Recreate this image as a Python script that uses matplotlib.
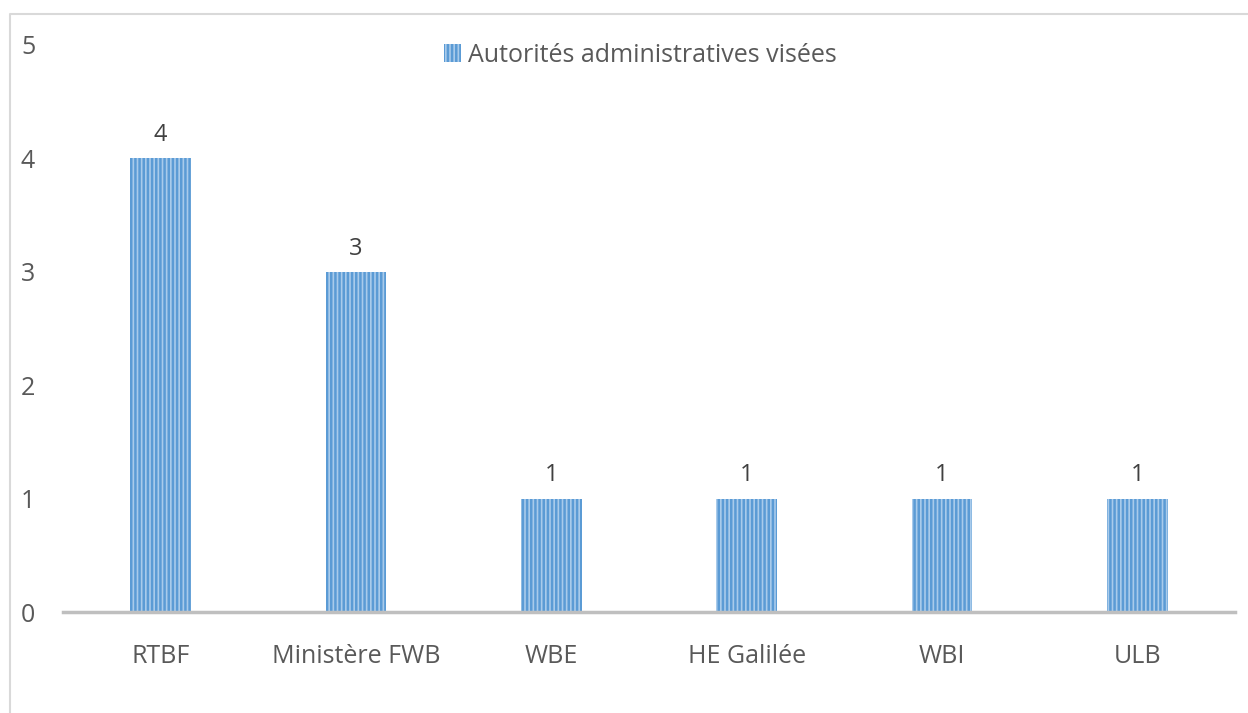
import matplotlib.pyplot as plt
from matplotlib.lines import Line2D

plt.rcParams['font.family'] = ['Open Sans', 'DejaVu Sans']
plt.rcParams['hatch.linewidth'] = 1.8

# Data
categories = ["RTBF", "Ministère FWB", "WBE", "HE Galilée", "WBI", "ULB"]
values = [4, 3, 1, 1, 1, 1]
series_name = "Autorités administratives visées"

text_color = "#595959"
bar_edge = "#5B9BD5"
bar_face = "#A9CBEB"

fig = plt.figure(figsize=(12.48, 7.13), dpi=100)
ax = fig.add_axes([63 / 1248, 1 - 612 / 713, (1235 - 63) / 1248, (612 - 45) / 713])

x = range(len(categories))
bars = ax.bar(x, values, width=0.31, color=bar_face, edgecolor=bar_edge,
              hatch="||||", linewidth=0, label=series_name)

for rect, v in zip(bars, values):
    ax.annotate(str(v), (rect.get_x() + rect.get_width() / 2, v),
                xytext=(0, 8), textcoords="offset points",
                ha="center", va="bottom", fontsize=17, color="#404040")

ax.set_xlim(-0.5, len(categories) - 0.5)
ax.set_ylim(0, 5)
ax.set_xticks(list(x))
ax.set_xticklabels(categories)
ax.set_yticks(range(6))

for s in ["top", "right", "left"]:
    ax.spines[s].set_visible(False)
ax.spines["bottom"].set_color("#BFBFBF")
ax.spines["bottom"].set_linewidth(2.5)

ax.tick_params(axis="both", length=0, labelsize=18, colors=text_color)
ax.tick_params(axis="x", pad=23)
ax.tick_params(axis="y", pad=20)

leg = fig.legend(loc="center", bbox_to_anchor=(640 / 1248, 1 - 55 / 713),
                 frameon=False, fontsize=18, handlelength=0.7, handleheight=0.7,
                 handletextpad=0.25)
for t in leg.get_texts():
    t.set_color(text_color)

# chart frame (top and left edges visible)
fig.add_artist(Line2D([10 / 1248, 10 / 1248, 1], [0, 1 - 14 / 713, 1 - 14 / 713],
                      transform=fig.transFigure, color="#D9D9D9", linewidth=1.5))

fig.savefig("out.png", dpi=100)
